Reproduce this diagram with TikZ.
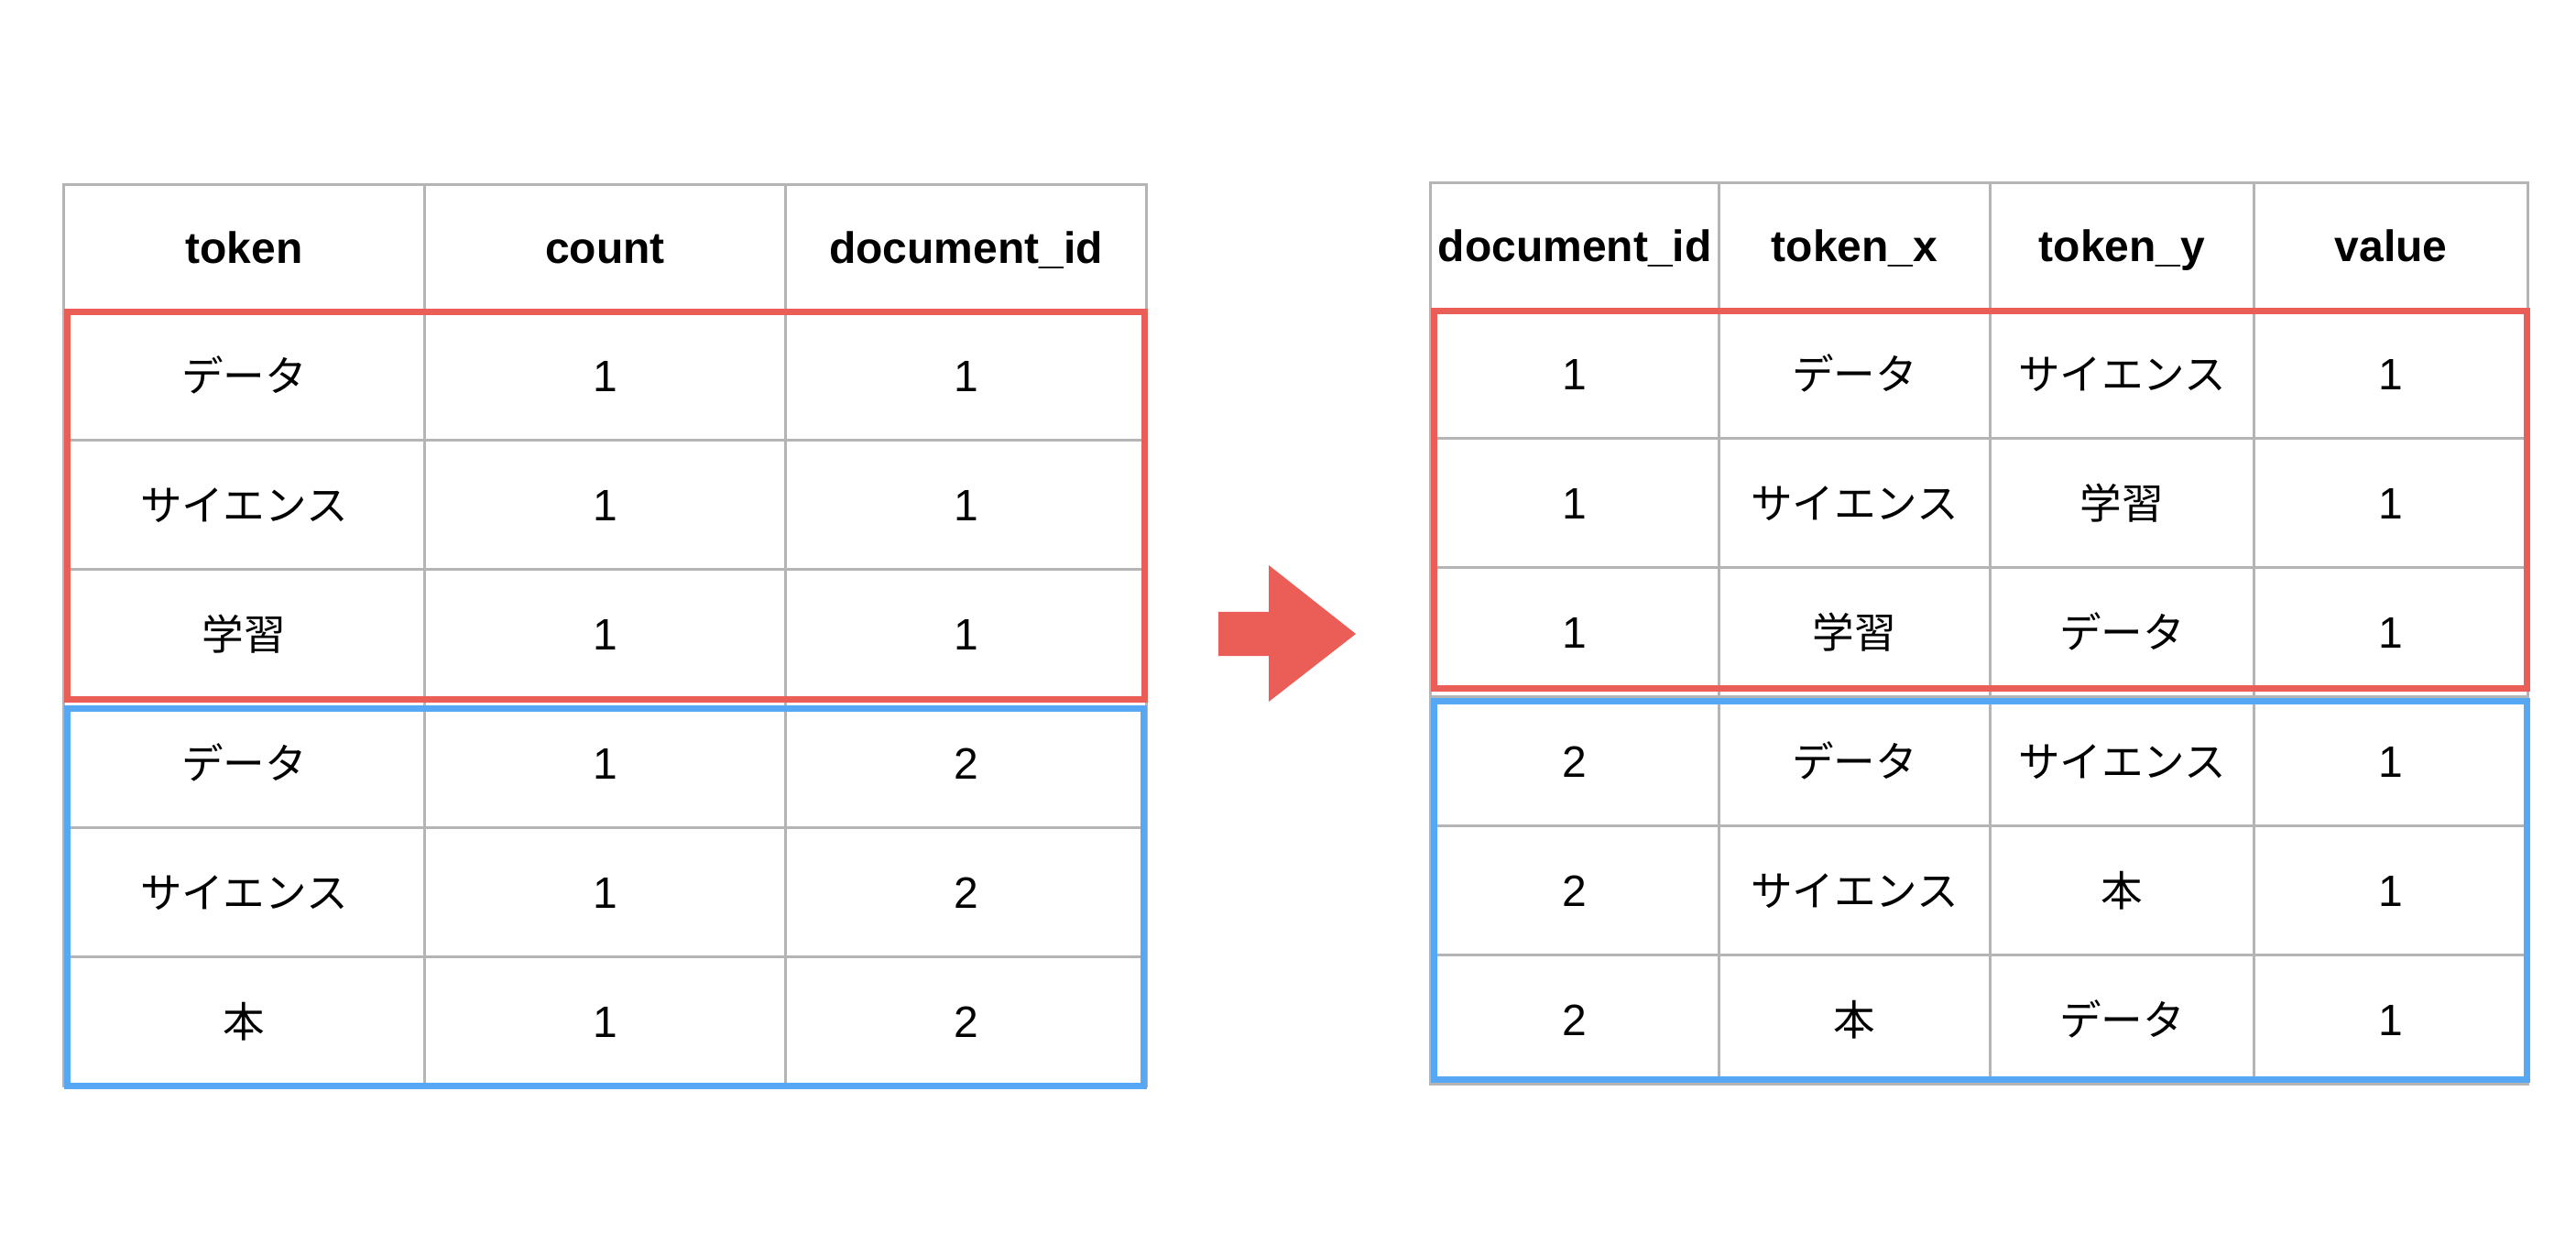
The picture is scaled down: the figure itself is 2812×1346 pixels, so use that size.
\documentclass[tikz,border=0pt]{standalone}
\usepackage{fontspec}
\setmainfont{Liberation Sans}
\newfontfamily\jpfont{Noto Sans CJK JP}
\usetikzlibrary{matrix,positioning}
\definecolor{cellgray}{HTML}{B4B4B4}
\definecolor{boxred}{HTML}{EB5E57}
\definecolor{boxblue}{HTML}{56A8F5}
\newcommand{\jp}[1]{{\jpfont\fontsize{11.4pt}{13pt}\selectfont #1}}

\tikzset{
  tbl/.style={matrix of nodes, column sep=-0.75pt, row sep=-0.75pt,
    inner sep=0pt, outer sep=0pt, anchor=north west,
    nodes={draw=cellgray, line width=0.75pt, anchor=center,
      minimum height=35.25pt, inner sep=0pt, outer sep=0pt,
      text height=8.6pt, text depth=0pt,
      font=\fontsize{12pt}{14pt}\selectfont},
    row 1/.style={nodes={minimum height=34.5pt,
      font=\fontsize{12pt}{14pt}\selectfont\bfseries}}},
  group/.style={line width=1.9pt}
}

\begin{document}
\begin{tikzpicture}[x=0.25pt, y=-0.25pt]
  \useasboundingbox (0,0) rectangle (2812,1346);
  % tokens per document
  \matrix[tbl, nodes={minimum width=98.5pt}] (left) at (68,200) {
    token & count & document\_id \\
    \jp{データ} & 1 & 1 \\
    \jp{サイエンス} & 1 & 1 \\
    \jp{学習} & 1 & 1 \\
    \jp{データ} & 1 & 2 \\
    \jp{サイエンス} & 1 & 2 \\
    \jp{本} & 1 & 2 \\
  };
  % token pairs
  \matrix[tbl,
    column 1/.style={nodes={minimum width=78.75pt}},
    column 2/.style={nodes={minimum width=74pt}},
    column 3/.style={nodes={minimum width=72pt}},
    column 4/.style={nodes={minimum width=74.75pt}}] (right) at (1560,198) {
    document\_id & token\_x & token\_y & value \\
    1 & \jp{データ} & \jp{サイエンス} & 1 \\
    1 & \jp{サイエンス} & \jp{学習} & 1 \\
    1 & \jp{学習} & \jp{データ} & 1 \\
    2 & \jp{データ} & \jp{サイエンス} & 1 \\
    2 & \jp{サイエンス} & \jp{本} & 1 \\
    2 & \jp{本} & \jp{データ} & 1 \\
  };
  \draw[group, boxred] ([xshift=1pt,yshift=-0.25pt]left-2-1.north west)
    rectangle ([xshift=-0.5pt,yshift=-0.25pt]left-4-3.south east);
  \draw[group, boxblue] ([xshift=1pt,yshift=-2.75pt]left-5-1.north west)
    rectangle ([xshift=-0.75pt]left-7-3.south east);
  \draw[group, boxred] ([xshift=1pt,yshift=-0.5pt]right-2-1.north west)
    rectangle ([xshift=-0.25pt,yshift=2.25pt]right-4-4.south east);
  \draw[group, boxblue] ([xshift=1pt,yshift=-1.25pt]right-5-1.north west)
    rectangle ([xshift=-0.25pt,yshift=1.25pt]right-7-4.south east);
  % arrow
  \fill[boxred] (1330,668) -- (1385,668) -- (1385,617) -- (1480,692)
    -- (1385,766) -- (1385,716) -- (1330,716) -- cycle;
\end{tikzpicture}
\end{document}
